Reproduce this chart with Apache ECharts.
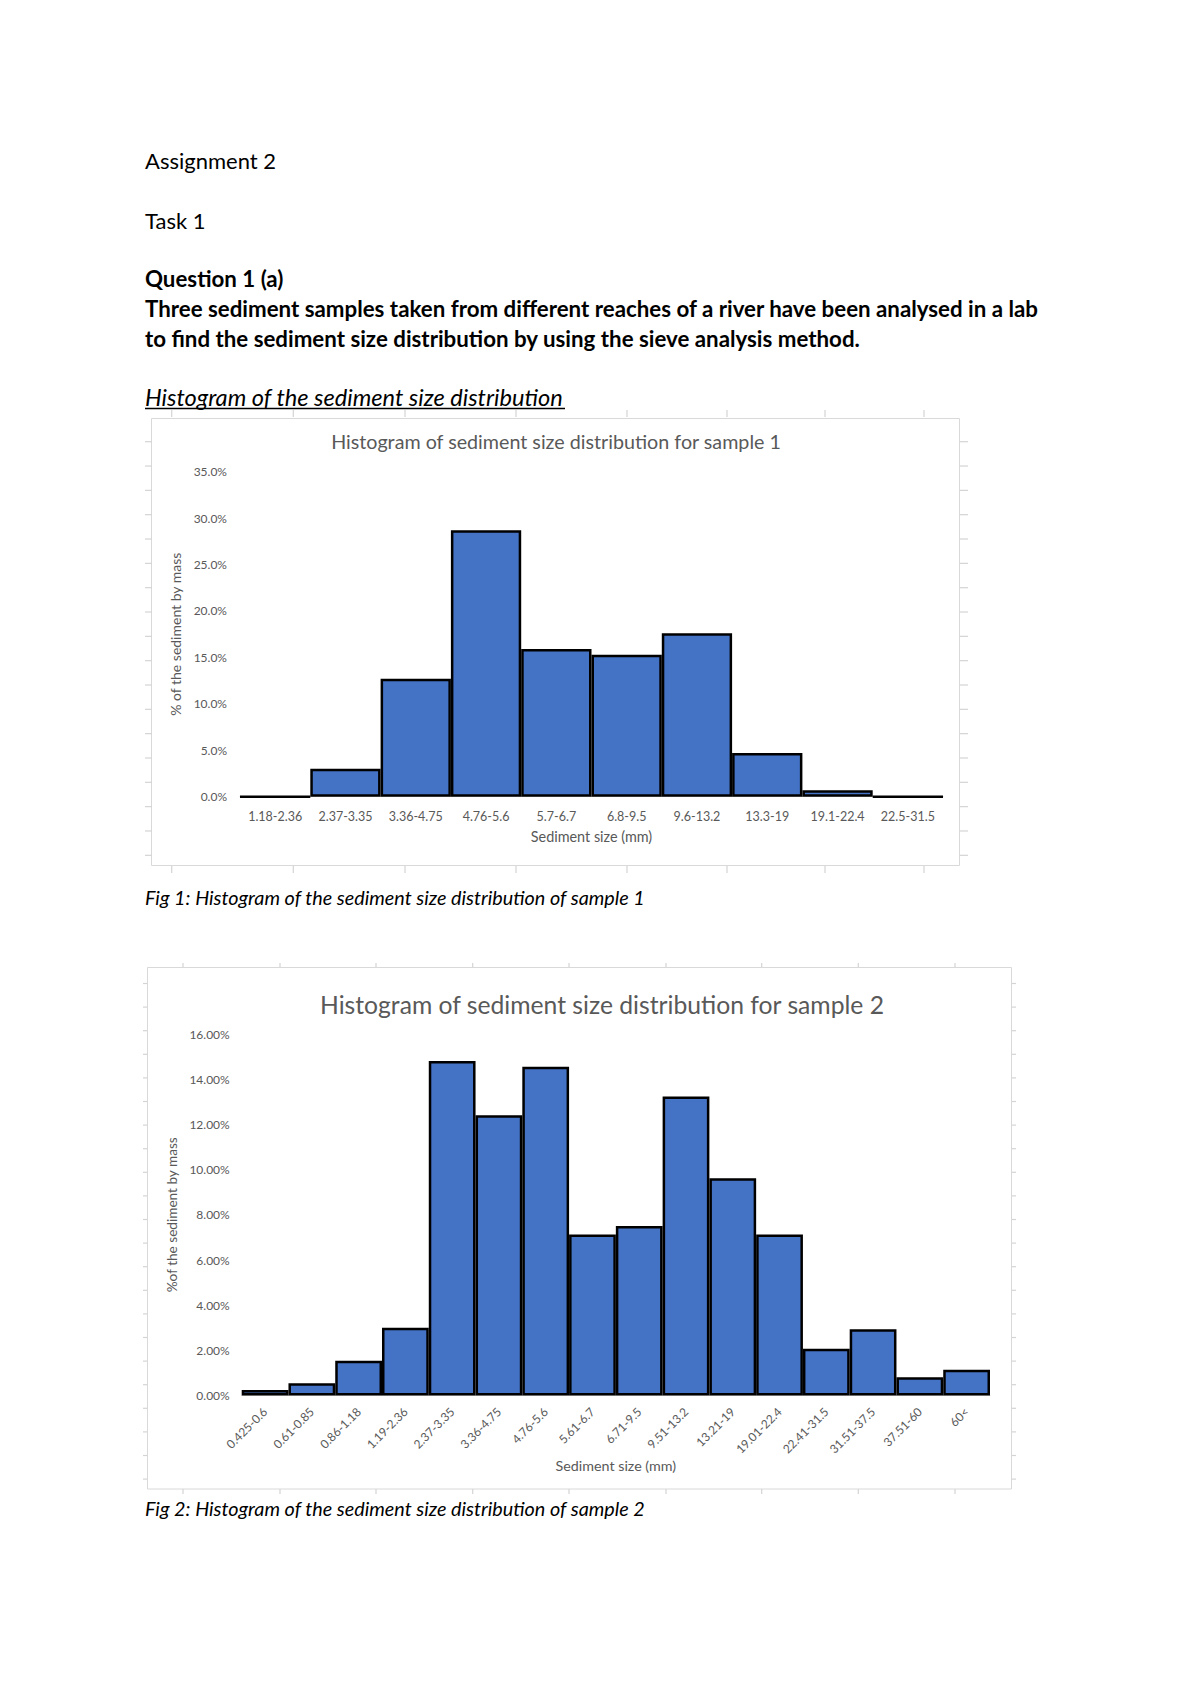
<!DOCTYPE html>
<html>
<head>
<meta charset="utf-8">
<script src="https://cdn.jsdelivr.net/npm/echarts@6/dist/echarts.min.js"></script>
<style>
html,body{margin:0;padding:0;background:#fff;}
#page{width:1200px;height:1698px;}
</style>
</head>
<body>
<div id="page"></div>
<script>
// ---- data ----
const categories1 = ['1.18-2.36','2.37-3.35','3.36-4.75','4.76-5.6','5.7-6.7','6.8-9.5','9.6-13.2','13.3-19','19.1-22.4','22.5-31.5'];
const percent1 = [0, 3.0, 12.7, 28.7, 15.9, 15.3, 17.6, 4.7, 0.7, 0];
const categories2 = ['0.425-0.6','0.61-0.85','0.86-1.18','1.19-2.36','2.37-3.35','3.36-4.75','4.76-5.6','5.61-6.7','6.71-9.5','9.51-13.2','13.21-19','19.01-22.4','22.41-31.5','31.51-37.5','37.51-60','60<'];
const percent2 = [0.25, 0.55, 1.54, 3.0, 14.8, 12.4, 14.55, 7.13, 7.5, 13.23, 9.62, 7.13, 2.07, 2.94, 0.81, 1.14];
const title1 = 'Histogram of sediment size distribution for sample 1';
const title2 = 'Histogram of sediment size distribution for sample 2';
const xName = 'Sediment size (mm)';
const yName1 = '% of the sediment by mass';
const yName2 = '%of the sediment by mass';

const FONT = 'Lato, "Open Sans", sans-serif';
const GRAY = '#595959';
const FRAME = '#d9d9d9';
const TICKC = '#d4d4d4';

const chart = echarts.init(document.getElementById('page'), null, {renderer: 'svg'});

// decorative document elements
const graphics = [];
function docText(x, y, text, font) {
  graphics.push({type: 'text', x: x, y: y, silent: true,
    style: {text: text, font: font, fill: '#000', verticalAlign: 'middle', align: 'left'}});
}
docText(145, 160, 'Assignment 2', '22px ' + FONT);
docText(145, 220, 'Task 1', '22px ' + FONT);
docText(145, 278, 'Question 1 (a)', 'bold 22.3px ' + FONT);
docText(145, 308, 'Three sediment samples taken from different reaches of a river have been analysed in a lab', 'bold 22.3px ' + FONT);
docText(145, 338, 'to find the sediment size distribution by using the sieve analysis method.', 'bold 22.3px ' + FONT);
docText(145, 397, 'Histogram of the sediment size distribution', 'italic 23.6px ' + FONT);
graphics.push({type: 'line', silent: true, shape: {x1: 145, y1: 408.5, x2: 565, y2: 408.5}, style: {stroke: '#000', lineWidth: 1.5}});
docText(145, 897, 'Fig 1: Histogram of the sediment size distribution of sample 1', 'italic 19.8px ' + FONT);
docText(145, 1507.5, 'Fig 2: Histogram of the sediment size distribution of sample 2', 'italic 19.8px ' + FONT);

// chart frames
graphics.push({type: 'rect', silent: true, z: -1, shape: {x: 151.5, y: 418.5, width: 808, height: 447}, style: {fill: '#fff', stroke: FRAME, lineWidth: 1}});
graphics.push({type: 'rect', silent: true, z: -1, shape: {x: 147.5, y: 967.5, width: 864, height: 521.5}, style: {fill: '#fff', stroke: FRAME, lineWidth: 1}});

function tick(x1, y1, x2, y2) {
  graphics.push({type: 'line', silent: true, shape: {x1: x1, y1: y1, x2: x2, y2: y2}, style: {stroke: TICKC, lineWidth: 1.2}});
}
// ruler-like ticks around chart 1
[171.7, 293.3, 405, 516, 627, 727, 825, 924].forEach(function (x) {
  tick(x, 410, x, 417); tick(x, 866, x, 873);
});
for (let k = 0; k < 18; k++) {
  const y = 441.7 + 24.33 * k;
  tick(145, y, 152, y); tick(960, y, 968, y);
}
// ruler-like ticks around chart 2
[183, 280, 376, 472.7, 569, 666, 761.7, 858.3, 955].forEach(function (x) {
  tick(x, 963, x, 967); tick(x, 1489, x, 1494);
});
for (let k = 0; k < 22; k++) {
  const y = 983.5 + 23.6 * k;
  tick(143, y, 147, y); tick(1012, y, 1016, y);
}

const barStyle = {color: '#4472C4', borderColor: '#000', borderWidth: 2.5};

chart.setOption({
  animation: false,
  backgroundColor: '#fff',
  textStyle: {fontFamily: FONT},
  title: [
    {text: title1, left: 551, top: 426, textAlign: 'center',
      textStyle: {color: GRAY, fontSize: 19.7, fontWeight: 'normal', fontFamily: FONT}},
    {text: title2, left: 597, top: 987, textAlign: 'center',
      textStyle: {color: GRAY, fontSize: 24.7, fontWeight: 'normal', fontFamily: FONT}}
  ],
  grid: [
    {left: 240, top: 471.7, width: 703, height: 325},
    {left: 241.7, top: 1034, width: 748.3, height: 361.6}
  ],
  xAxis: [
    {type: 'category', gridIndex: 0, data: categories1,
      axisTick: {show: false},
      axisLine: {lineStyle: {color: FRAME, width: 1}},
      axisLabel: {color: GRAY, fontSize: 12.5, margin: 13, interval: 0, fontFamily: FONT},
      name: xName, nameLocation: 'middle', nameGap: 33,
      nameTextStyle: {color: GRAY, fontSize: 14.4, fontFamily: FONT}},
    {type: 'category', gridIndex: 1, data: categories2,
      axisTick: {show: false},
      axisLine: {lineStyle: {color: FRAME, width: 1}},
      axisLabel: {color: GRAY, fontSize: 12, margin: 14, interval: 0, rotate: 45, fontFamily: FONT},
      name: xName, nameLocation: 'middle', nameGap: 60,
      nameTextStyle: {color: GRAY, fontSize: 14.3, fontFamily: FONT}}
  ],
  yAxis: [
    {type: 'value', gridIndex: 0, min: 0, max: 35, interval: 5,
      splitLine: {show: false}, axisLine: {show: false}, axisTick: {show: false},
      axisLabel: {color: GRAY, fontSize: 12, margin: 13, fontFamily: FONT,
        formatter: function (v) { return v.toFixed(1) + '%'; }},
      name: yName1, nameLocation: 'middle', nameGap: 54,
      nameTextStyle: {color: GRAY, fontSize: 14, fontFamily: FONT}},
    {type: 'value', gridIndex: 1, min: 0, max: 16, interval: 2,
      splitLine: {show: false}, axisLine: {show: false}, axisTick: {show: false},
      axisLabel: {color: GRAY, fontSize: 12, margin: 12, fontFamily: FONT,
        formatter: function (v) { return v.toFixed(2) + '%'; }},
      name: yName2, nameLocation: 'middle', nameGap: 57,
      nameTextStyle: {color: GRAY, fontSize: 13.6, fontFamily: FONT}}
  ],
  series: [
    {type: 'bar', xAxisIndex: 0, yAxisIndex: 0, data: percent1, barCategoryGap: '0%', itemStyle: barStyle},
    {type: 'bar', xAxisIndex: 1, yAxisIndex: 1, data: percent2, barCategoryGap: '0%', itemStyle: barStyle}
  ],
  graphic: graphics
});
</script>
</body>
</html>
